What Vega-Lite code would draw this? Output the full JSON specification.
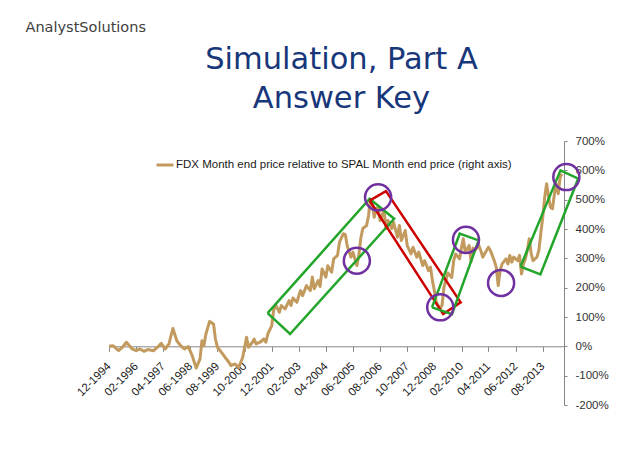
{
  "$schema": "https://vega.github.io/schema/vega-lite/v6.json",
  "width": 455,
  "height": 264,
  "autosize": {"type": "none"},
  "padding": {"left": 109, "top": 141, "right": 75, "bottom": 66},
  "background": "white",
  "config": {"view": {"stroke": null}, "font": "Liberation Sans", "axis": {"labelOverlap": false}},
  "title": {
    "text": ["Simulation, Part A", "Answer Key"],
    "frame": "group",
    "anchor": "middle",
    "fontSize": 30.5,
    "font": "DejaVu Sans",
    "fontWeight": "normal",
    "color": "#17377A",
    "lineHeight": 39,
    "offset": -95,
    "dx": 5
  },
  "datasets": {
    "fdx": [
      {"date":"1994-12-01","value":0},{"date":"1995-02-01","value":2},{"date":"1995-05-01","value":-15},{"date":"1995-07-01","value":-3},
      {"date":"1995-09-01","value":14},{"date":"1995-12-01","value":-9},{"date":"1996-02-01","value":-15},{"date":"1996-04-01","value":-9},
      {"date":"1996-06-01","value":-17},{"date":"1996-08-01","value":-11},{"date":"1996-11-01","value":-15},{"date":"1997-01-01","value":-3},
      {"date":"1997-03-01","value":10},{"date":"1997-05-01","value":-9},{"date":"1997-07-01","value":8},{"date":"1997-08-01","value":36},
      {"date":"1997-09-01","value":61},{"date":"1997-11-01","value":19},{"date":"1998-01-01","value":2},{"date":"1998-03-01","value":-9},
      {"date":"1998-05-01","value":-1},{"date":"1998-07-01","value":-32},{"date":"1998-09-01","value":-74},{"date":"1998-11-01","value":-43},
      {"date":"1998-12-01","value":19},{"date":"1999-01-01","value":2},{"date":"1999-02-01","value":42},{"date":"1999-04-01","value":85},
      {"date":"1999-06-01","value":76},{"date":"1999-07-01","value":25},{"date":"1999-08-01","value":-3},{"date":"1999-10-01","value":-20},
      {"date":"1999-12-01","value":-38},{"date":"2000-02-01","value":-55},{"date":"2000-03-01","value":-66},{"date":"2000-05-01","value":-60},
      {"date":"2000-07-01","value":-72},{"date":"2000-09-01","value":-38},{"date":"2000-11-01","value":31},{"date":"2000-12-01","value":-3},
      {"date":"2001-02-01","value":14},{"date":"2001-03-01","value":25},{"date":"2001-04-01","value":8},{"date":"2001-06-01","value":14},
      {"date":"2001-08-01","value":25},{"date":"2001-09-01","value":14},{"date":"2001-10-01","value":42},{"date":"2001-12-01","value":70},
      {"date":"2002-01-01","value":122},{"date":"2002-02-01","value":142},{"date":"2002-04-01","value":116},{"date":"2002-05-01","value":139},
      {"date":"2002-07-01","value":128},{"date":"2002-09-01","value":156},{"date":"2002-10-01","value":139},{"date":"2002-11-01","value":165},
      {"date":"2003-01-01","value":150},{"date":"2003-02-01","value":173},{"date":"2003-03-01","value":190},{"date":"2003-04-01","value":173},
      {"date":"2003-06-01","value":207},{"date":"2003-08-01","value":190},{"date":"2003-09-01","value":236},{"date":"2003-10-01","value":196},
      {"date":"2003-12-01","value":224},{"date":"2004-01-01","value":204},{"date":"2004-02-01","value":264},{"date":"2004-04-01","value":236},
      {"date":"2004-05-01","value":275},{"date":"2004-07-01","value":253},{"date":"2004-08-01","value":298},{"date":"2004-10-01","value":310},
      {"date":"2004-11-01","value":355},{"date":"2005-01-01","value":384},{"date":"2005-02-01","value":381},{"date":"2005-03-01","value":344},
      {"date":"2005-05-01","value":304},{"date":"2005-06-01","value":321},{"date":"2005-07-01","value":298},{"date":"2005-08-01","value":275},
      {"date":"2005-09-01","value":310},{"date":"2005-10-01","value":367},{"date":"2005-11-01","value":401},{"date":"2006-01-01","value":412},
      {"date":"2006-02-01","value":446},{"date":"2006-03-01","value":500},{"date":"2006-04-01","value":486},{"date":"2006-05-01","value":440},
      {"date":"2006-06-01","value":469},{"date":"2006-07-01","value":474},{"date":"2006-08-01","value":429},{"date":"2006-10-01","value":463},
      {"date":"2006-11-01","value":401},{"date":"2006-12-01","value":429},{"date":"2007-02-01","value":401},{"date":"2007-03-01","value":423},
      {"date":"2007-05-01","value":372},{"date":"2007-06-01","value":412},{"date":"2007-07-01","value":361},{"date":"2007-09-01","value":395},
      {"date":"2007-10-01","value":344},{"date":"2007-12-01","value":315},{"date":"2008-01-01","value":338},{"date":"2008-03-01","value":304},
      {"date":"2008-04-01","value":321},{"date":"2008-06-01","value":275},{"date":"2008-07-01","value":292},{"date":"2008-09-01","value":258},
      {"date":"2008-10-01","value":270},{"date":"2008-11-01","value":224},{"date":"2008-12-01","value":190},{"date":"2009-01-01","value":150},
      {"date":"2009-03-01","value":128},{"date":"2009-04-01","value":140},{"date":"2009-05-01","value":201},{"date":"2009-07-01","value":250},
      {"date":"2009-09-01","value":235},{"date":"2009-10-01","value":292},{"date":"2009-11-01","value":315},{"date":"2010-01-01","value":298},
      {"date":"2010-02-01","value":338},{"date":"2010-03-01","value":367},{"date":"2010-04-01","value":321},{"date":"2010-06-01","value":344},
      {"date":"2010-07-01","value":290},{"date":"2010-08-01","value":335},{"date":"2010-09-01","value":327},{"date":"2010-11-01","value":344},
      {"date":"2010-12-01","value":327},{"date":"2011-01-01","value":304},{"date":"2011-03-01","value":327},{"date":"2011-04-01","value":338},
      {"date":"2011-05-01","value":327},{"date":"2011-07-01","value":292},{"date":"2011-08-01","value":270},{"date":"2011-09-01","value":207},
      {"date":"2011-10-01","value":258},{"date":"2011-11-01","value":281},{"date":"2012-01-01","value":298},{"date":"2012-02-01","value":281},
      {"date":"2012-03-01","value":310},{"date":"2012-04-01","value":287},{"date":"2012-05-01","value":304},{"date":"2012-07-01","value":292},
      {"date":"2012-08-01","value":310},{"date":"2012-09-01","value":247},{"date":"2012-10-01","value":281},{"date":"2012-11-01","value":298},
      {"date":"2012-12-01","value":327},{"date":"2013-01-01","value":367},{"date":"2013-02-01","value":315},{"date":"2013-03-01","value":292},
      {"date":"2013-05-01","value":304},{"date":"2013-06-01","value":327},{"date":"2013-07-01","value":384},{"date":"2013-08-01","value":440},
      {"date":"2013-09-01","value":509},{"date":"2013-10-01","value":554},{"date":"2013-11-01","value":509},{"date":"2013-12-01","value":474},
      {"date":"2014-01-01","value":469},{"date":"2014-02-01","value":520},{"date":"2014-03-01","value":554},{"date":"2014-04-01","value":520},
      {"date":"2014-05-01","value":577},{"date":"2014-06-01","value":588}
    ],
    "boxes": [
      {"box":"A","trend":"up","idx":0,"date":"2001-09-28","value":113},
      {"box":"A","trend":"up","idx":1,"date":"2006-02-18","value":503},
      {"box":"A","trend":"up","idx":2,"date":"2007-03-10","value":435},
      {"box":"A","trend":"up","idx":3,"date":"2002-09-16","value":42},
      {"box":"A","trend":"up","idx":4,"date":"2001-09-28","value":113},
      {"box":"B","trend":"down","idx":0,"date":"2006-02-18","value":497},
      {"box":"B","trend":"down","idx":1,"date":"2006-11-01","value":529},
      {"box":"B","trend":"down","idx":2,"date":"2010-01-19","value":150},
      {"box":"B","trend":"down","idx":3,"date":"2009-04-19","value":110},
      {"box":"B","trend":"down","idx":4,"date":"2006-02-18","value":497},
      {"box":"C","trend":"up","idx":0,"date":"2008-10-25","value":133},
      {"box":"C","trend":"up","idx":1,"date":"2010-01-04","value":384},
      {"box":"C","trend":"up","idx":2,"date":"2010-10-28","value":361},
      {"box":"C","trend":"up","idx":3,"date":"2009-09-04","value":110},
      {"box":"C","trend":"up","idx":4,"date":"2008-10-25","value":133},
      {"box":"D","trend":"up","idx":0,"date":"2012-08-16","value":272},
      {"box":"D","trend":"up","idx":1,"date":"2014-05-07","value":600},
      {"box":"D","trend":"up","idx":2,"date":"2015-02-10","value":572},
      {"box":"D","trend":"up","idx":3,"date":"2013-06-25","value":245},
      {"box":"D","trend":"up","idx":4,"date":"2012-08-16","value":272}
    ],
    "circles": [
      {"date":"2006-07-01","value":508},
      {"date":"2005-08-01","value":292},
      {"date":"2009-03-04","value":133},
      {"date":"2010-04-12","value":363},
      {"date":"2011-10-16","value":216},
      {"date":"2014-08-07","value":577}
    ]
  },
  "layer": [
    {
      "data": {"name": "fdx"},
      "mark": {"type": "line", "strokeWidth": 3, "strokeJoin": "round"},
      "encoding": {
        "x": {
          "field": "date", "type": "temporal",
          "scale": {"type": "utc", "domain": [{"year": 1994, "month": 12, "date": 1, "utc": true}, {"year": 2014, "month": 7, "date": 1, "utc": true}]},
          "axis": {
            "values": [
              {"year":1994,"month":12,"date":1,"utc":true},{"year":1996,"month":2,"date":1,"utc":true},{"year":1997,"month":4,"date":1,"utc":true},
              {"year":1998,"month":6,"date":1,"utc":true},{"year":1999,"month":8,"date":1,"utc":true},{"year":2000,"month":10,"date":1,"utc":true},
              {"year":2001,"month":12,"date":1,"utc":true},{"year":2003,"month":2,"date":1,"utc":true},{"year":2004,"month":4,"date":1,"utc":true},
              {"year":2005,"month":6,"date":1,"utc":true},{"year":2006,"month":8,"date":1,"utc":true},{"year":2007,"month":10,"date":1,"utc":true},
              {"year":2008,"month":12,"date":1,"utc":true},{"year":2010,"month":2,"date":1,"utc":true},{"year":2011,"month":4,"date":1,"utc":true},
              {"year":2012,"month":6,"date":1,"utc":true},{"year":2013,"month":8,"date":1,"utc":true}
            ],
            "tickCount": 40,
            "format": "%m-%Y",
            "labelAngle": -45,
            "labelAlign": "right",
            "labelBaseline": "middle",
            "labelFontSize": 11.5,
            "labelColor": "#1a1a1a",
            "labelPadding": 13,
            "labelOverlap": false,
            "labelFlush": false,
            "labelBound": false,
            "offset": -58.7,
            "domainColor": "#868686",
            "tickColor": "#868686",
            "tickSize": 5,
            "grid": false,
            "title": null
          }
        },
        "y": {
          "field": "value", "type": "quantitative",
          "scale": {"domain": [-200, 700], "nice": false, "zero": false},
          "axis": {
            "orient": "right",
            "values": [-200, -100, 0, 100, 200, 300, 400, 500, 600, 700],
            "tickCount": 40,
            "labelExpr": "datum.value + '%'",
            "labelOverlap": false,
            "labelFontSize": 11.5,
            "labelColor": "#333333",
            "labelPadding": 8,
            "domainColor": "#868686",
            "tickColor": "#868686",
            "tickSize": 3,
            "grid": false,
            "title": "AnalystSolutions",
            "titleAngle": 0,
            "titleX": -539,
            "titleY": -114,
            "titleAlign": "left",
            "titleBaseline": "middle",
            "titleFont": "DejaVu Sans",
            "titleFontSize": 14.5,
            "titleFontWeight": "normal",
            "titleColor": "#404040"
          }
        },
        "color": {
          "datum": "FDX Month end price relative to SPAL Month end price (right axis)",
          "type": "nominal",
          "scale": {"range": ["#C29A5E"]},
          "legend": {
            "orient": "none",
            "legendX": 46,
            "legendY": 14,
            "title": null,
            "symbolType": "stroke",
            "symbolStrokeWidth": 3,
            "symbolSize": 289,
            "labelFontSize": 11.5,
            "labelColor": "#1a1a1a",
            "labelLimit": 0,
            "padding": 0,
            "labelOffset": 1
          }
        }
      }
    },
    {
      "data": {"name": "boxes"},
      "mark": {"type": "line", "strokeWidth": 2.5, "strokeJoin": "miter"},
      "encoding": {
        "x": {"field": "date", "type": "temporal"},
        "y": {"field": "value", "type": "quantitative"},
        "detail": {"field": "box"},
        "order": {"field": "idx", "type": "quantitative"},
        "stroke": {"field": "trend", "type": "nominal", "scale": {"domain": ["up", "down"], "range": ["#22A52A", "#CC0000"]}, "legend": null}
      }
    },
    {
      "data": {"name": "circles"},
      "mark": {"type": "point", "shape": "circle", "filled": false, "size": 680, "strokeWidth": 2.5, "color": "#7030A0", "opacity": 1},
      "encoding": {
        "x": {"field": "date", "type": "temporal"},
        "y": {"field": "value", "type": "quantitative"}
      }
    }
  ]
}
